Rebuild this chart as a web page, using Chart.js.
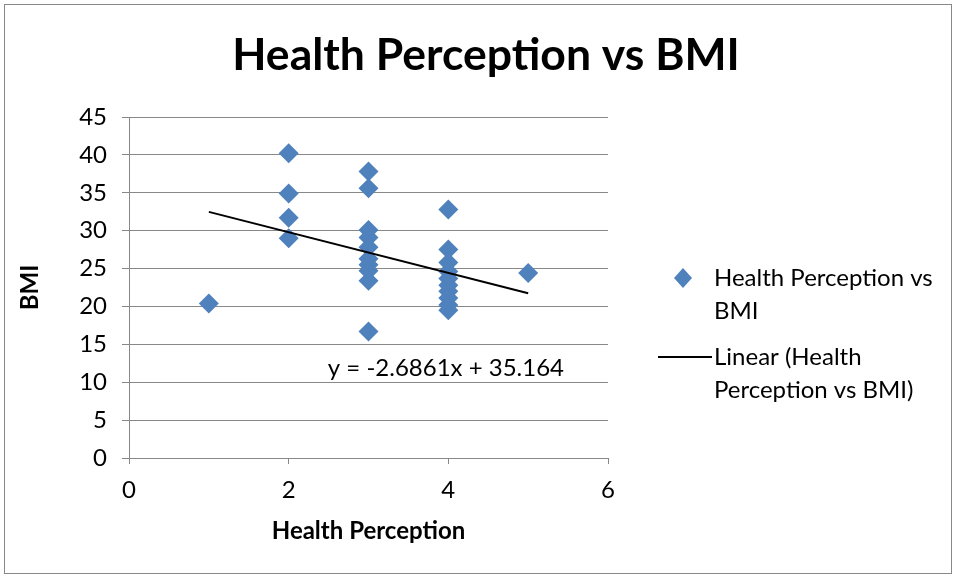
<!DOCTYPE html>
<html>
<head>
<meta charset="utf-8">
<script src="https://cdn.jsdelivr.net/npm/chart.js@4/dist/chart.umd.min.js"></script>
<style>
  html, body { margin: 0; padding: 0; background: #fff; }
  canvas { display: block; }
</style>
</head>
<body>
<canvas id="chart" width="956" height="578"></canvas>
<script>
// health perception score (x) and BMI (y)
const perception = [1, 2, 2, 2, 2, 3, 3, 3, 3, 3, 3, 3, 3, 3, 3, 4, 4, 4, 4, 4, 4, 4, 4, 4, 4, 5];
const bmi = [20.4, 40.2, 34.9, 31.7, 29.0,
    37.8, 35.6, 30.1, 29.1, 27.8, 26.3, 25.5, 24.7, 23.4, 16.7,
    32.8, 27.5, 25.8, 24.6, 23.7, 22.8, 22.0, 21.1, 20.2, 19.5,
    24.4];

// linear trendline end points
const trendX = [1, 5];
const trendY = [32.48, 21.73];
const trendLabel = 'y = -2.6861x + 35.164';

const xTicks = [0, 2, 4, 6];
const yTicks = [0, 5, 10, 15, 20, 25, 30, 35, 40, 45];

const chartTitle = 'Health Perception vs BMI';
const seriesName = 'Health Perception vs BMI';
const legendLines = [['Health Perception vs', 'BMI'], ['Linear (Health', 'Perception vs BMI)']];

const blue = '#4F81BD';
const gray = '#888888';

Chart.defaults.font.family = 'Lato';
Chart.defaults.color = '#000';

const extras = {
    id: 'extras',
    afterDraw(chart) {
        const ctx = chart.ctx;
        const xs = chart.scales.x;
        const ys = chart.scales.y;
        ctx.save();

        // outer frame
        ctx.strokeStyle = gray;
        ctx.lineWidth = 1;
        ctx.strokeRect(4.5, 4.5, 947, 569);

        // title, centred on the whole frame
        ctx.fillStyle = '#000';
        ctx.font = 'bold 44.5px Lato';
        ctx.textAlign = 'center';
        ctx.textBaseline = 'middle';
        ctx.fillText(chartTitle, 486, 56);

        // trendline equation
        ctx.font = '24px Lato';
        ctx.fillText(trendLabel, xs.getPixelForValue(3.97), ys.getPixelForValue(11.9));

        // legend
        ctx.textAlign = 'left';
        ctx.fillStyle = blue;
        ctx.beginPath();
        ctx.moveTo(683, 268);
        ctx.lineTo(692, 278);
        ctx.lineTo(683, 288);
        ctx.lineTo(674, 278);
        ctx.closePath();
        ctx.fill();

        ctx.strokeStyle = '#000';
        ctx.lineWidth = 2;
        ctx.beginPath();
        ctx.moveTo(658, 357);
        ctx.lineTo(712, 357);
        ctx.stroke();

        ctx.fillStyle = '#000';
        ctx.fillText(legendLines[0][0], 714, 278);
        ctx.fillText(legendLines[0][1], 714, 311);
        ctx.fillText(legendLines[1][0], 714, 357);
        ctx.fillText(legendLines[1][1], 714, 390);
        ctx.restore();
    }
};

new Chart(document.getElementById('chart'), {
    type: 'scatter',
    data: {
        datasets: [
            {
                type: 'line',
                label: 'Linear (' + seriesName + ')',
                data: trendX.map((x, i) => ({ x: x, y: trendY[i] })),
                borderColor: '#000',
                borderWidth: 2,
                pointRadius: 0,
                order: 0,
            },
            {
                label: seriesName,
                data: perception.map((x, i) => ({ x: x, y: bmi[i] })),
                backgroundColor: blue,
                borderColor: blue,
                borderWidth: 0,
                pointStyle: 'rectRot',
                pointRadius: 10,
                order: 1,
            }
        ]
    },
    options: {
        responsive: false,
        animation: false,
        layout: {
            padding: { left: 10, right: 348, top: 117, bottom: 0 }
        },
        plugins: {
            legend: { display: false },
            tooltip: { enabled: false },
            title: { display: false },
        },
        scales: {
            x: {
                type: 'linear',
                min: 0,
                max: 6,
                afterBuildTicks: (scale) => { scale.ticks = xTicks.map(v => ({ value: v })); },
                afterFit: (scale) => { scale.height = 120; },
                grid: { drawOnChartArea: false, color: gray, tickLength: 6 },
                border: { color: gray, width: 1 },
                ticks: { font: { size: 24 }, padding: 12 },
                title: {
                    display: true,
                    text: 'Health Perception',
                    font: { size: 24, weight: 'bold' },
                    padding: { top: 0, bottom: 32 },
                }
            },
            y: {
                type: 'linear',
                min: 0,
                max: 45,
                afterBuildTicks: (scale) => { scale.ticks = yTicks.map(v => ({ value: v })); },
                afterFit: (scale) => { scale.width = 119; },
                grid: { color: gray, tickLength: 7 },
                border: { color: gray, width: 1 },
                ticks: { font: { size: 24 }, padding: 15 },
                title: {
                    display: true,
                    text: 'BMI',
                    font: { size: 24, weight: 'bold' },
                    padding: { top: 6, bottom: 0 },
                }
            }
        }
    },
    plugins: [extras]
});
</script>
</body>
</html>
